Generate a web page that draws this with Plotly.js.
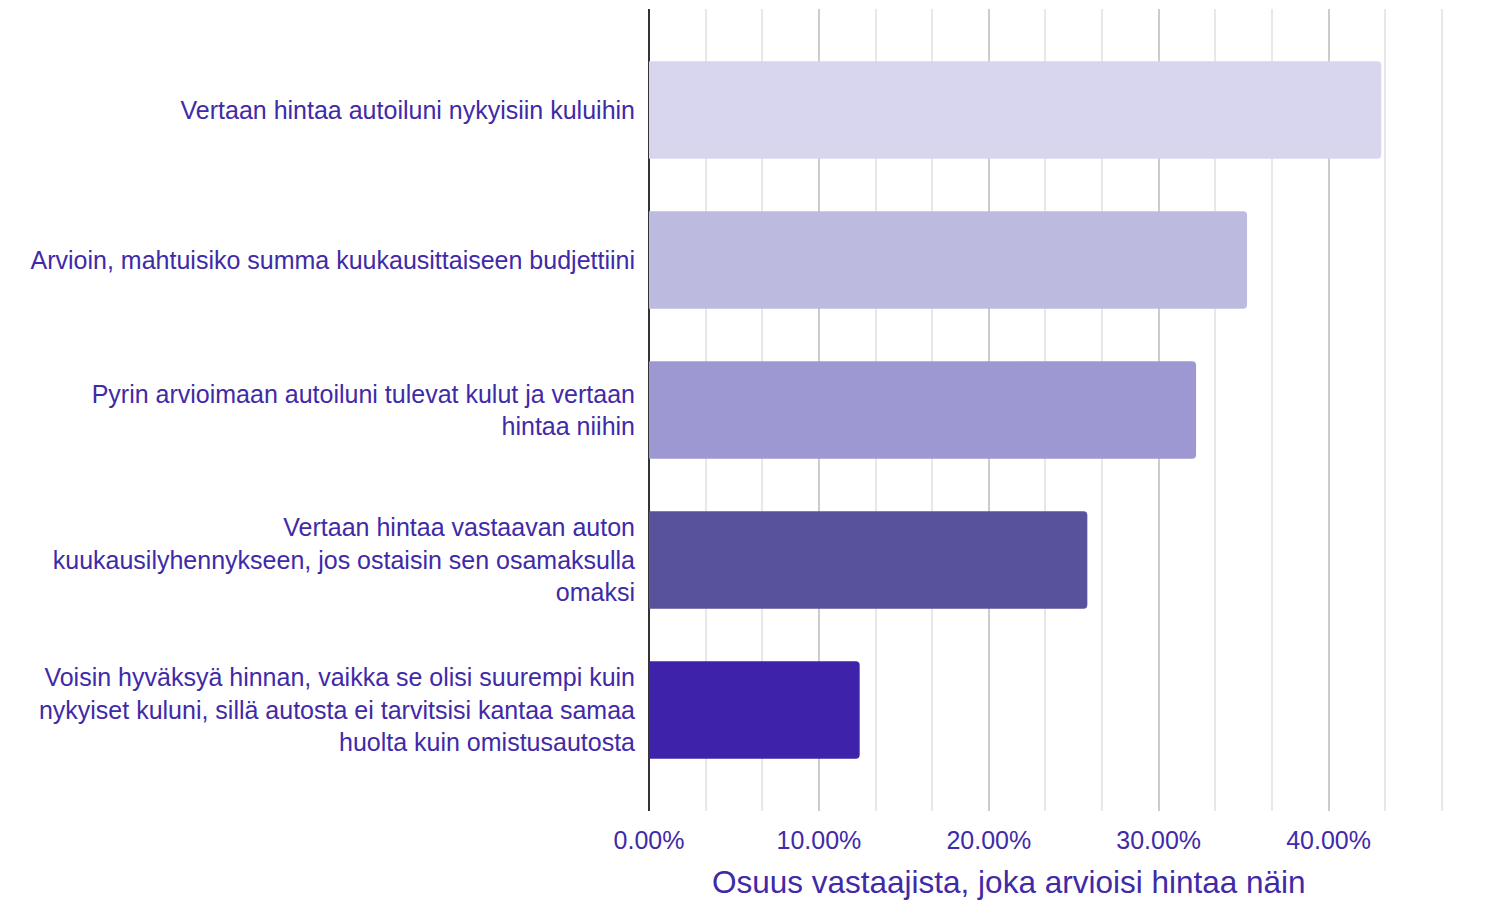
<!DOCTYPE html>
<html><head><meta charset="utf-8">
<script src="https://cdn.plot.ly/plotly-3.0.1.min.js"></script>
<style>html,body{margin:0;padding:0;background:#fff}#chart{width:1493px;height:902px}</style>
</head><body><div id="chart"></div>
<script>
const categories = [
  "Vertaan hintaa autoiluni nykyisiin kuluihin",
  "Arvioin, mahtuisiko summa kuukausittaiseen budjettiini",
  "Pyrin arvioimaan autoiluni tulevat kulut ja vertaan<br>hintaa niihin",
  "Vertaan hintaa vastaavan auton<br>kuukausilyhennykseen, jos ostaisin sen osamaksulla<br>omaksi",
  "Voisin hyväksyä hinnan, vaikka se olisi suurempi kuin<br>nykyiset kuluni, sillä autosta ei tarvitsisi kantaa samaa<br>huolta kuin omistusautosta"
];
const values = [0.431, 0.352, 0.322, 0.258, 0.124];
const barColors = ["#d8d5ee", "#bdbae0", "#9d98d1", "#58519c", "#3f22aa"];
const xTitle = "Osuus vastaajista, joka arvioisi hintaa näin";

const textColor = "#3f2aa8";
const font = "'Liberation Sans', Arial, sans-serif";

const W = 1493, ML = 649, MR = 37;

Plotly.newPlot("chart", [{
  type: "bar",
  orientation: "h",
  y: categories,
  x: values,
  marker: {color: barColors, cornerradius: 4},
  width: 0.65,
  hoverinfo: "x+y"
}], {
  width: W, height: 902,
  margin: {l: ML, r: MR, t: 9, b: 91},
  paper_bgcolor: "#fff", plot_bgcolor: "#fff",
  showlegend: false,
  font: {family: font, color: textColor, size: 25},
  xaxis: {
    range: [0, 0.475],
    dtick: 0.1, tick0: 0,
    tickformat: ".2%",
    showgrid: true, gridcolor: "#cccccc", gridwidth: 2,
    minor: {dtick: 0.1/3, tick0: 0, showgrid: true, gridcolor: "#e8e8e8", gridwidth: 2},
    zeroline: true, zerolinecolor: "#333333", zerolinewidth: 2,
    showline: false,
    ticks: "", ticklabelstandoff: 12,
    tickfont: {family: font, size: 25, color: textColor},
    fixedrange: true
  },
  yaxis: {
    categoryorder: "array", categoryarray: categories,
    range: [4.673, -0.673],
    showgrid: false, zeroline: false, showline: false,
    ticks: "", ticklabelstandoff: 13,
    tickfont: {family: font, size: 25, color: textColor},
    fixedrange: true
  },
  annotations: [{
    text: xTitle, showarrow: false,
    xref: "paper", yref: "paper",
    x: (1009 - ML) / (W - ML - MR), y: -0.0885,
    xanchor: "center", yanchor: "middle",
    font: {family: font, size: 31.5, color: textColor}
  }]
}, {displayModeBar: false});
</script>
</body></html>
